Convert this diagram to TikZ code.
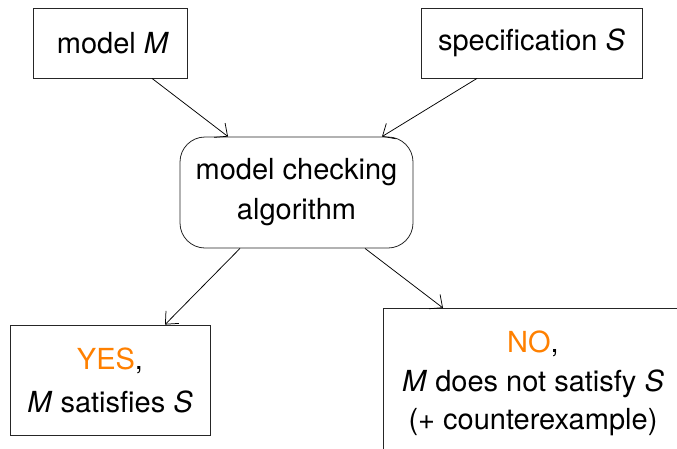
\documentclass[tikz,border=0pt]{standalone}
\usepackage{fontspec}
\setmainfont{TeX Gyre Heros}
\usetikzlibrary{arrows.meta}
\definecolor{answer}{RGB}{255,128,0}
\tikzset{
  box/.style={draw=black!85, line width=0.8pt, align=center, inner sep=0pt,
    font=\fontsize{29}{40}\selectfont},
  flow/.style={draw=black, line width=0.75pt, -{Straight Barb[length=10pt,width=18pt,line width=0.75pt]}},
}
\begin{document}
\begin{tikzpicture}[x=1pt,y=-1pt]
  \useasboundingbox (0,0) rectangle (677,448);
  \begin{scope}
    \clip (0,0) rectangle (677,448);
    \node[box, minimum width=154pt, minimum height=70pt] (model) at (110,43) {\hspace{6pt}model \textit{M}};
    \node[box, minimum width=221pt, minimum height=70pt] (spec) at (531.5,43) {specification \textit{S}};
    \node[box, rounded corners=25pt, minimum width=233pt, minimum height=111pt] (algo) at (296.5,192.5) {model checking\\algorithm};
    \node[box, minimum width=200pt, minimum height=110pt, font=\fontsize{29}{43}\selectfont] (yes) at (110,380) {\textcolor{answer}{YES},\\\textit{M} satisfies \textit{S}};
    \node[box, minimum width=300pt, minimum height=150pt, anchor=north, font=\fontsize{29}{38.5}\selectfont] (no) at (533,308) {\textcolor{answer}{NO},\\\textit{M} does not satisfy \textit{S}\\(+ counterexample)};
    \draw[flow] ([xshift=42pt]model.south) -- ([xshift=-68.5pt]algo.north);
    \draw[flow] ([xshift=-54.5pt]spec.south) -- ([xshift=85.5pt]algo.north);
    \draw[flow] ([xshift=-56.5pt]algo.south) -- ([xshift=55pt]yes.north);
    \draw[flow] ([xshift=68.5pt]algo.south) -- ([xshift=-90pt]no.north);
  \end{scope}
\end{tikzpicture}
\end{document}
